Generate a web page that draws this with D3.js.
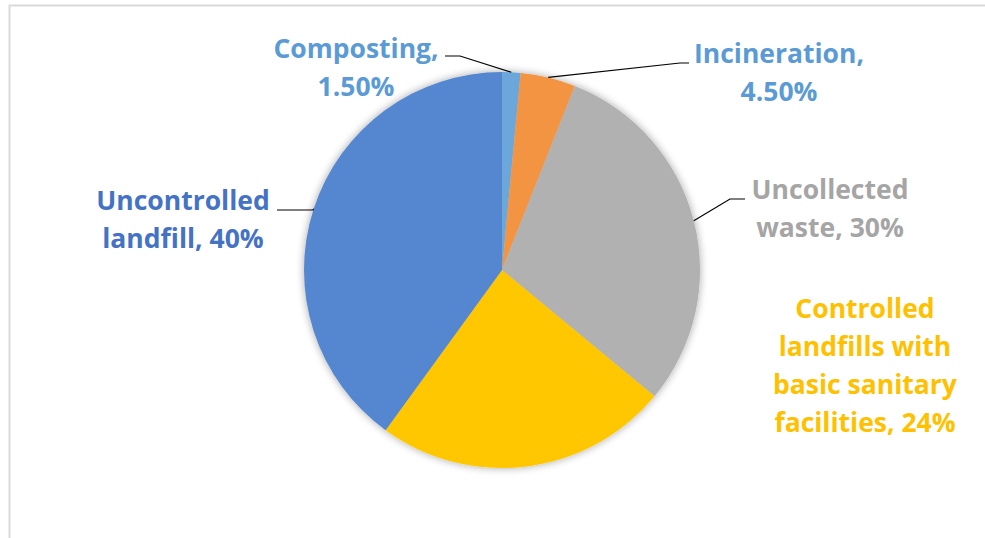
<!DOCTYPE html>
<html>
<head>
<meta charset="utf-8">
<script src="https://cdn.jsdelivr.net/npm/d3@7"></script>
<style>
  html, body { margin: 0; padding: 0; background: #fff; }
</style>
</head>
<body>
<div id="chart-area"></div>
<script>
const categories = ["Composting", "Incineration", "Uncollected waste", "Controlled landfills with basic sanitary facilities", "Uncontrolled landfill"]
const values = [1.5, 4.5, 30, 24, 40]
const valueLabels = ["1.50%", "4.50%", "30%", "24%", "40%"]
// label text as it wraps in the picture
const labelLines = [
  ["Composting,", "1.50%"],
  ["Incineration,", "4.50%"],
  ["Uncollected", "waste, 30%"],
  ["Controlled", "landfills with", "basic sanitary", "facilities, 24%"],
  ["Uncontrolled", "landfill, 40%"]
]

const sliceColors = ["#6CA7DC", "#F29442", "#B1B1B1", "#FFC700", "#5586D0"]
const textColors = ["#5B9BD5", "#5B9BD5", "#A5A5A5", "#FFC000", "#4472C4"]

// label placement: centre x, first baseline y, and elbow of leader (null = no leader)
const layout = [
  { x: 356, y: 58, elbow: [[445, 56], [460, 56]] },
  { x: 779, y: 63, elbow: [[689, 63], [680, 63]] },
  { x: 830, y: 199, elbow: [[745, 199], [730, 199]] },
  { x: 865, y: 318, elbow: null },
  { x: 183, y: 210, elbow: [[277, 210], [313, 210]] }
]

const W = 985, H = 538
const CX = 502, CY = 270, R = 198
const LINE_H = 38

const svg = d3.select("#chart-area").append("svg")
  .attr("width", W)
  .attr("height", H)

// chart frame
svg.append("rect")
  .attr("x", 9.5).attr("y", 5.5)
  .attr("width", 1000).attr("height", 600)
  .attr("fill", "none")
  .attr("stroke", "#D9D9D9")
  .attr("stroke-width", 2)

const defs = svg.append("defs")
const shadow = defs.append("filter").attr("id", "shadow")
  .attr("x", "-10%").attr("y", "-10%").attr("width", "120%").attr("height", "120%")
shadow.append("feGaussianBlur").attr("in", "SourceAlpha").attr("stdDeviation", 4)
shadow.append("feOffset").attr("dx", 0).attr("dy", 0).attr("result", "blur")
shadow.append("feComponentTransfer").append("feFuncA").attr("type", "linear").attr("slope", 0.35)
const merge = shadow.append("feMerge")
merge.append("feMergeNode")
merge.append("feMergeNode").attr("in", "SourceGraphic")

const pie = d3.pie().sort(null).value(d => d)
const arcs = pie(values)
const arc = d3.arc().innerRadius(0).outerRadius(R)

const g = svg.append("g").attr("transform", `translate(${CX},${CY})`)

g.append("g").attr("filter", "url(#shadow)")
  .selectAll("path")
  .data(arcs)
  .join("path")
  .attr("d", arc)
  .attr("fill", (d, i) => sliceColors[i])

// leader lines
arcs.forEach((d, i) => {
  const L = layout[i]
  if (!L.elbow) return
  const mid = (d.startAngle + d.endAngle) / 2
  const px = CX + R * Math.sin(mid)
  const py = CY - R * Math.cos(mid)
  const pts = [L.elbow[0], L.elbow[1], [px, py]]
  svg.append("path")
    .attr("d", d3.line()(pts))
    .attr("fill", "none")
    .attr("stroke", "#000")
    .attr("stroke-width", 1.2)
})

// labels
labelLines.forEach((lines, i) => {
  const L = layout[i]
  const t = svg.append("text")
    .attr("text-anchor", "middle")
    .attr("font-family", "'Open Sans', Lato, sans-serif")
    .attr("font-weight", "bold")
    .attr("font-size", 26.5)
    .attr("fill", textColors[i])
  lines.forEach((s, j) => {
    t.append("tspan")
      .attr("x", L.x)
      .attr("y", L.y + j * LINE_H)
      .text(s)
  })
})
</script>
</body>
</html>
